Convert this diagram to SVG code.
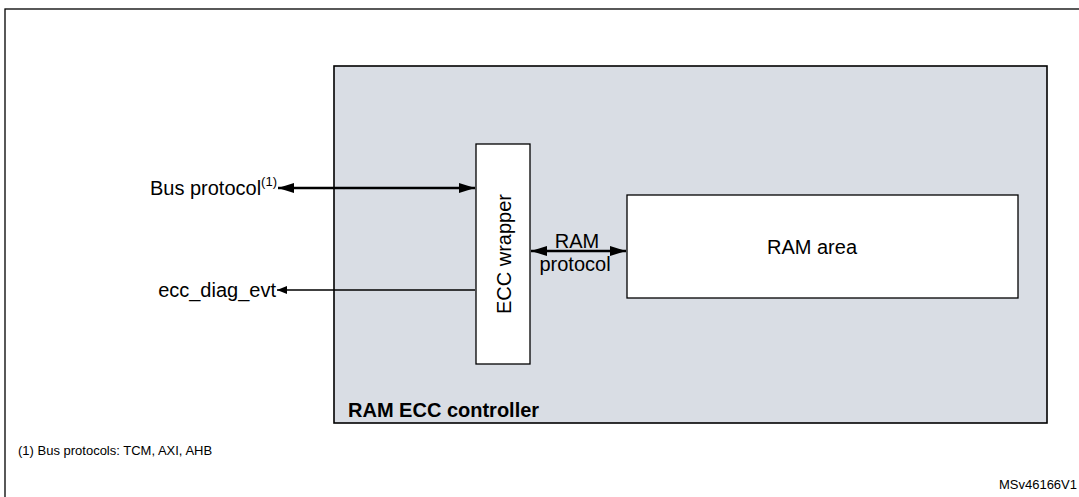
<svg xmlns="http://www.w3.org/2000/svg" width="1079" height="497" viewBox="0 0 1079 497">
<defs>
<marker id="ah" markerWidth="10" markerHeight="8" refX="10" refY="4" orient="auto-start-reverse" markerUnits="userSpaceOnUse"><path d="M0,0 L10,4 L0,8 z" fill="#000"/></marker>
<marker id="ahb" markerWidth="16" markerHeight="10" refX="16" refY="5" orient="auto-start-reverse" markerUnits="userSpaceOnUse"><path d="M0,0 L16,5 L0,10 z" fill="#000"/></marker>
</defs>
<style>
text{font-family:"Liberation Sans",Arial,sans-serif;fill:#000}
.box{fill:#fff;stroke:#000;stroke-width:1.3}
</style>
<rect width="1079" height="497" fill="#fff"/>
<rect x="5" y="9" width="1090" height="500" fill="none" stroke="#000" stroke-width="1.3"/>
<g id="controller"><rect x="334" y="66" width="713" height="357" fill="#d9dde4" stroke="#000" stroke-width="1.6"/>
<text x="348" y="417" font-size="20" font-weight="bold">RAM ECC controller</text></g>
<g id="wrapper"><rect class="box" x="476" y="144" width="54" height="220"/>
<text transform="translate(511,254) rotate(-90)" font-size="20" text-anchor="middle">ECC wrapper</text></g>
<g id="ram"><rect class="box" x="627" y="195" width="391" height="103"/>
<text x="812" y="254" font-size="20" text-anchor="middle">RAM area</text></g>
<g id="connectors" stroke="#000" fill="none">
<line x1="278" y1="188" x2="475" y2="188" stroke-width="2.4" marker-start="url(#ahb)" marker-end="url(#ahb)"/>
<line x1="277" y1="290" x2="475" y2="290" stroke-width="1.3" marker-start="url(#ah)"/>
<line x1="531" y1="251" x2="626" y2="251" stroke-width="2.4" marker-start="url(#ahb)" marker-end="url(#ahb)"/>
</g>
<text x="277" y="195" font-size="20" text-anchor="end">Bus protocol<tspan font-size="13" dy="-9">(1)</tspan></text>
<text x="276" y="297" font-size="20" text-anchor="end">ecc_diag_evt</text>
<text x="577" y="248" font-size="20" text-anchor="middle">RAM</text>
<text x="575" y="271" font-size="20" text-anchor="middle">protocol</text>
<text x="18" y="455" font-size="13">(1) Bus protocols: TCM, AXI, AHB</text>
<text x="1077" y="489" font-size="13" text-anchor="end">MSv46166V1</text>
</svg>
